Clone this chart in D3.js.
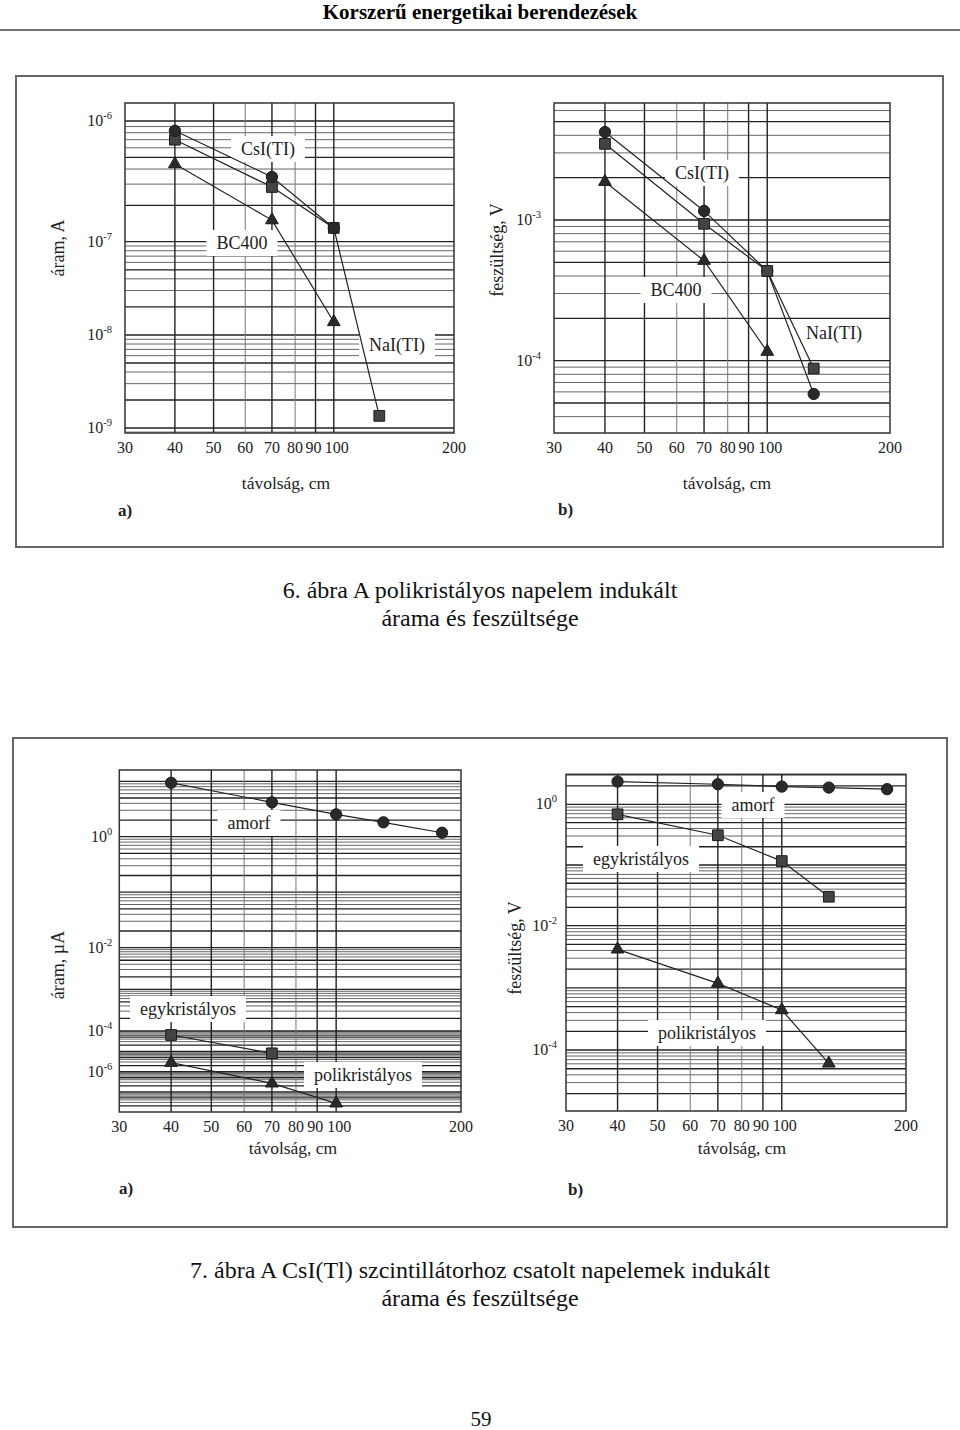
<!DOCTYPE html>
<html><head><meta charset="utf-8">
<script src="https://cdn.jsdelivr.net/npm/d3@7"></script>
<style>body{margin:0;background:#fff}svg{display:block}</style>
</head><body>
<svg id="c" width="960" height="1430"></svg>
<script>
// ---------- DATA ----------
const distances = [40, 70, 100, 130, 180];            // távolság, cm
const xTickValues = [30, 40, 50, 60, 70, 80, 90, 100, 200];

// 6. ábra a) áram, A
const fig6a_CsI   = [8.3e-7, 3.44e-7, 1.30e-7];
const fig6a_NaI   = [7.0e-7, 2.84e-7, 1.30e-7, 1.35e-9];
const fig6a_BC400 = [4.4e-7, 1.51e-7, 1.38e-8];
const fig6a_yTicks = [1e-9, 1e-8, 1e-7, 1e-6];

// 6. ábra b) feszültség, V
const fig6b_CsI   = [4.22e-3, 1.16e-3, 4.34e-4, 5.8e-5];
const fig6b_NaI   = [3.48e-3, 9.4e-4, 4.34e-4, 8.8e-5];
const fig6b_BC400 = [1.87e-3, 5.14e-4, 1.16e-4];
const fig6b_yTicks = [1e-4, 1e-3];

// 7. ábra a) áram, µA
const fig7a_amorf = [9.4, 4.17, 2.53, 1.82, 1.18];
const fig7a_egy   = [6.36e-5, 8.0e-6];
const fig7a_poli  = [2.77e-6, 2.65e-7, 2.7e-8];
const fig7a_yTicks = [1e-6, 1e-4, 1e-2, 1];

// 7. ábra b) feszültség, V
const fig7b_amorf = [2.36, 2.13, 1.95, 1.88, 1.77];
const fig7b_egy   = [0.684, 0.309, 0.116, 0.030];
const fig7b_poli  = [4.17e-3, 1.18e-3, 4.4e-4, 6.1e-5];
const fig7b_yTicks = [1e-4, 1e-2, 1];

// ---------- DRAW ----------
const svg = d3.select("#c");
svg.append("rect").attr("width", 960).attr("height", 1430).attr("fill", "#fff");

const SERIF = "'Liberation Serif','Times New Roman',serif";

// header
svg.append("text").attr("x", 480).attr("y", 19).attr("text-anchor", "middle")
  .attr("font-family", SERIF).attr("font-weight", "bold").attr("font-size", 21)
  .text("Korszerű energetikai berendezések");
svg.append("line").attr("x1", 0).attr("x2", 960).attr("y1", 30).attr("y2", 30)
  .attr("stroke", "#444").attr("stroke-width", 1.5);

// figure boxes
svg.append("rect").attr("x", 16).attr("y", 76).attr("width", 927).attr("height", 471)
  .attr("fill", "none").attr("stroke", "#666").attr("stroke-width", 2);
svg.append("rect").attr("x", 13).attr("y", 738).attr("width", 934).attr("height", 489)
  .attr("fill", "none").attr("stroke", "#666").attr("stroke-width", 2);

function expLabel(sel, exp) {
  sel.append("tspan").text("10");
  sel.append("tspan").attr("dy", -7).attr("font-size", 10.5).text(exp);
}

function panel(cfg) {
  const g = svg.append("g");
  const x = d3.scaleLog().domain([30, 200]).range([cfg.x0, cfg.x1]);
  const y = d3.scaleLog().domain(cfg.yDomain).range(cfg.yRange);
  const dmin = cfg.yDomain[0], dmax = cfg.yDomain[cfg.yDomain.length - 1];

  // horizontal log grid
  const hv = [];
  for (let n = Math.floor(Math.log10(dmin)); n <= Math.ceil(Math.log10(dmax)); n++) {
    for (let k = 1; k <= 9; k++) {
      const v = k * Math.pow(10, n);
      if (v > dmin * 1.0001 && v < dmax * 0.9999) hv.push({v, k});
    }
  }
  g.selectAll(".hg").data(hv).join("line")
    .attr("x1", cfg.x0).attr("x2", cfg.x1)
    .attr("y1", d => y(d.v)).attr("y2", d => y(d.v))
    .attr("stroke", d => (d.k === 1 || d.k === 2 || d.k === 5) ? "#222" : "#666")
    .attr("stroke-width", d => (d.k === 1 || d.k === 2 || d.k === 5) ? 1.3 : 1);

  // vertical grid
  const vv = [40, 50, 60, 70, 80, 90, 100];
  g.selectAll(".vg").data(vv).join("line")
    .attr("x1", d => x(d)).attr("x2", d => x(d))
    .attr("y1", cfg.yRange[cfg.yRange.length - 1]).attr("y2", cfg.yRange[0])
    .attr("stroke", d => (d === 60 || d === 80) ? "#777" : "#222")
    .attr("stroke-width", d => (d === 60 || d === 80) ? 1 : 1.4);

  // frame
  g.append("rect").attr("x", cfg.x0).attr("y", cfg.yRange[cfg.yRange.length - 1])
    .attr("width", cfg.x1 - cfg.x0).attr("height", cfg.yRange[0] - cfg.yRange[cfg.yRange.length - 1])
    .attr("fill", "none").attr("stroke", "#333").attr("stroke-width", 1.5);

  // x tick labels (slight spread for the crowded 90/100 pair)
  const nudge = {90: -2, 100: 3};
  g.selectAll(".xt").data(xTickValues).join("text")
    .attr("x", d => x(d)).attr("dx", d => nudge[d] || 0).attr("y", cfg.yRange[0] + 20)
    .attr("text-anchor", "middle").attr("font-family", SERIF).attr("font-size", 16)
    .attr("fill", "#222").text(d => d);

  // y tick labels
  g.selectAll(".yt").data(cfg.yTicks).join("text")
    .attr("x", cfg.x0 - cfg.tickGap).attr("y", d => y(d) + 5)
    .attr("text-anchor", "end").attr("font-family", SERIF).attr("font-size", 16)
    .attr("fill", "#222")
    .each(function (d) { expLabel(d3.select(this), String(Math.round(Math.log10(d)))); });

  // series labels with white backing
  cfg.labels.forEach(l => {
    const t = g.append("text").attr("x", l.x).attr("y", l.y + 6)
      .attr("text-anchor", "middle").attr("font-family", SERIF).attr("font-size", 18)
      .attr("fill", "#222").text(l.text);
    const bb = t.node().getBBox();
    g.insert("rect", () => t.node()).attr("x", bb.x - 10).attr("y", l.y - 13)
      .attr("width", bb.width + 20).attr("height", 26).attr("fill", "#fff");
  });

  // series
  cfg.series.forEach(s => {
    const pts = s.values.map((v, i) => [distances[i], v]);
    g.append("path").datum(pts)
      .attr("d", d3.line().x(d => x(d[0])).y(d => y(d[1])))
      .attr("fill", "none").attr("stroke", "#222").attr("stroke-width", 1.2);
    const sym = s.shape === "circle" ? d3.symbolCircle : s.shape === "square" ? d3.symbolSquare : d3.symbolTriangle;
    const size = s.shape === "circle" ? 100 : s.shape === "square" ? 115 : 70;
    g.selectAll(null).data(pts).join("path")
      .attr("transform", d => `translate(${x(d[0])},${y(d[1])})`)
      .attr("d", d3.symbol().type(sym).size(size))
      .attr("fill", s.shape === "square" ? "#444" : "#2a2a2a")
      .attr("stroke", "#1a1a1a").attr("stroke-width", 1);
  });

  // axis titles
  g.append("text").attr("x", cfg.xTitle[0]).attr("y", cfg.xTitle[1] + 6)
    .attr("text-anchor", "middle").attr("font-family", SERIF).attr("font-size", 17.5)
    .attr("fill", "#222").text("távolság, cm");
  g.append("text").attr("transform", `translate(${cfg.yTitle[0] + 6},${cfg.yTitle[1]}) rotate(-90)`)
    .attr("text-anchor", "middle").attr("font-family", SERIF).attr("font-size", 18)
    .attr("fill", "#222").text(cfg.yTitleText);
  g.append("text").attr("x", cfg.tag[0]).attr("y", cfg.tag[1] + 6)
    .attr("font-family", SERIF).attr("font-weight", "bold").attr("font-size", 17)
    .attr("fill", "#222").text(cfg.tagText);
}

// 6a
panel({
  x0: 125, x1: 454,
  yDomain: [8.8e-10, 1e-9, 1e-8, 1e-7, 1e-6, 1.41e-6],
  yRange: [433, 428, 335, 241.7, 121, 103],
  yTicks: fig6a_yTicks, tickGap: 13,
  series: [
    {values: fig6a_BC400, shape: "triangle"},
    {values: fig6a_NaI, shape: "square"},
    {values: fig6a_CsI, shape: "circle"}
  ],
  labels: [
    {text: "CsI(TI)", x: 268, y: 149},
    {text: "BC400", x: 242, y: 243},
    {text: "NaI(TI)", x: 397, y: 345}
  ],
  xTitle: [286, 483], yTitle: [58, 248], yTitleText: "áram, A",
  tag: [118, 510], tagText: "a)"
});

// 6b
panel({
  x0: 554, x1: 890,
  yDomain: [3.06e-5, 1e-4, 1e-3, 6.79e-3],
  yRange: [433, 360.7, 220, 103],
  yTicks: fig6b_yTicks, tickGap: 13,
  series: [
    {values: fig6b_BC400, shape: "triangle"},
    {values: fig6b_CsI, shape: "circle"},
    {values: fig6b_NaI, shape: "square"}
  ],
  labels: [
    {text: "CsI(TI)", x: 702, y: 173},
    {text: "BC400", x: 676, y: 290},
    {text: "NaI(TI)", x: 834, y: 333}
  ],
  xTitle: [727, 483], yTitle: [497, 250], yTitleText: "feszültség, V",
  tag: [558, 509], tagText: "b)"
});

// 7a
panel({
  x0: 119.3, x1: 461,
  yDomain: [1e-8, 1e-6, 1e-4, 1e-2, 1, 16],
  yRange: [1112, 1071.7, 1031, 947.7, 836.7, 770],
  yTicks: fig7a_yTicks, tickGap: 7,
  series: [
    {values: fig7a_amorf, shape: "circle"},
    {values: fig7a_egy, shape: "square"},
    {values: fig7a_poli, shape: "triangle"}
  ],
  labels: [
    {text: "amorf", x: 249, y: 823},
    {text: "egykristályos", x: 188, y: 1009},
    {text: "polikristályos", x: 363, y: 1075}
  ],
  xTitle: [293, 1148], yTitle: [58, 965], yTitleText: "áram, µA",
  tag: [119, 1188], tagText: "a)"
});

// 7b
panel({
  x0: 566, x1: 906,
  yDomain: [1.05e-5, 1e-4, 1e-2, 1, 3.1],
  yRange: [1111, 1050, 925.7, 804.3, 774.3],
  yTicks: fig7b_yTicks, tickGap: 9,
  series: [
    {values: fig7b_amorf, shape: "circle"},
    {values: fig7b_egy, shape: "square"},
    {values: fig7b_poli, shape: "triangle"}
  ],
  labels: [
    {text: "amorf", x: 753, y: 805},
    {text: "egykristályos", x: 641, y: 859},
    {text: "polikristályos", x: 707, y: 1033}
  ],
  xTitle: [742, 1148], yTitle: [515, 948], yTitleText: "feszültség, V",
  tag: [568, 1189], tagText: "b)"
});

// captions
function caption(lines, y0) {
  lines.forEach((t, i) => svg.append("text").attr("x", 480).attr("y", y0 + i * 28)
    .attr("text-anchor", "middle").attr("font-family", SERIF).attr("font-size", 24)
    .attr("fill", "#111").text(t));
}
caption(["6. ábra A polikristályos napelem indukált", "árama és feszültsége"], 598);
caption(["7. ábra A CsI(Tl) szcintillátorhoz csatolt napelemek indukált", "árama és feszültsége"], 1278);

svg.append("text").attr("x", 481).attr("y", 1426).attr("text-anchor", "middle")
  .attr("font-family", SERIF).attr("font-size", 21).attr("fill", "#111").text("59");
</script>
</body></html>
